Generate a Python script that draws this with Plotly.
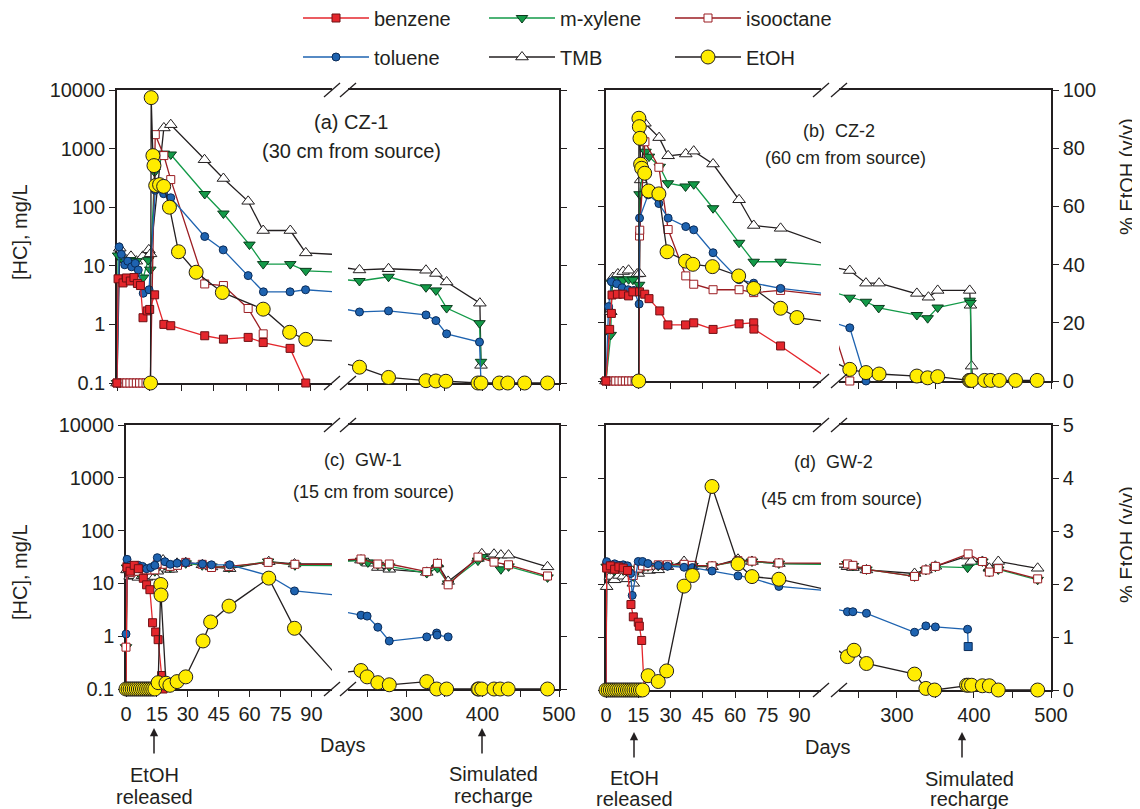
import plotly.graph_objects as go

W, H = 1140, 809          # browser window
OFF = 8                   # default page margin around the plot div
FIG_W, FIG_H = W - OFF, H - OFF

# ---------------- data: sampling day and value ----------------
# HC in mg/L (log axis), EtOH in % v/v (right axis)

# Panel (a) CZ-1
A_BENZ_D = [0, 0.5, 2.8, 4.4, 6.2, 7.9, 9.5, 10.9, 12.1, 14.1, 15.2, 17.5, 21.8, 25.0, 40.8, 49.5, 61.0, 68.0, 80.5, 87.8]
A_BENZ_V = [0.1, 6.0, 5.1, 6.2, 5.5, 6.3, 5.0, 4.6, 1.3, 1.7, 1.8, 3.2, 1.0, 0.95, 0.64, 0.56, 0.60, 0.49, 0.39, 0.1]
A_TOL_D = [0, 1.0, 2.0, 3.6, 5.0, 6.8, 8.5, 9.9, 12.2, 14.9, 17.8, 21.7, 25.0, 40.8, 49.4, 61.0, 68.1, 80.5, 87.7,
           239, 277, 326, 339, 353, 396, 398]
A_TOL_V = [0.1, 21, 15.7, 10.4, 12, 9.6, 11, 8.5, 3.4, 3.9, 195, 170, 145, 31.6, 18.7, 6.8, 3.6, 3.6, 3.9,
           1.63, 1.7, 1.45, 1.16, 0.69, 0.50, 0.1]
A_MX_D = [0, 0.5, 3.6, 6.2, 9.0, 12.2, 14.5, 15.5, 17.5, 21.8, 25.0, 40.8, 49.5, 61.6, 68.0, 80.6, 87.8,
          239, 277, 326, 339, 353, 396, 398]
A_MX_V = [0.1, 15, 11.5, 12.5, 12, 6.3, 12.5, 8.6, 400, 822, 794, 168, 78, 23, 10.7, 10.7, 8.2,
          5.5, 6.5, 4.3, 3.8, 1.9, 1.05, 0.23]
A_TMB_D = [0, 1.3, 2.5, 4.5, 6.5, 9.0, 12.0, 14.8, 15.6, 21.8, 25.0, 40.7, 49.5, 61.0, 68.0, 80.6, 87.8,
           239, 277, 326, 339, 353, 396.5, 398]
A_TMB_V = [0.1, 20, 14.5, 12.5, 14.5, 12, 14.5, 18.7, 16, 2250, 2560, 646, 309, 126, 40, 40, 16.6,
           8.5, 8.9, 8.4, 7.4, 5.3, 2.3, 0.2]
A_ISO_D = [0, 1.5, 3.0, 4.5, 6.0, 7.5, 9.0, 10.5, 12.0, 13.5, 15.5, 17.8, 21.8, 25.0, 40.8, 49.5, 61.0, 68.0]
A_ISO_V = [0.1, 0.1, 0.1, 0.1, 0.1, 0.1, 0.1, 0.1, 0.1, 0.1, 0.1, 1730, 760, 296, 4.9, 4.6, 1.87, 0.69]
A_ETOH_D = [15.6, 15.9, 16.7, 17.2, 18.0, 19.8, 21.7, 24.4, 28.6, 36.8, 49.0, 68.0, 80.3, 87.8,
            239, 277, 326, 339, 352, 394, 398, 422, 433, 455, 485]
A_ETOH_V = [0, 97.4, 77.6, 74.2, 67.4, 67.7, 67.1, 60.0, 44.8, 37.8, 30.9, 25.2, 17.3, 14.9,
            5.4, 1.9, 0.8, 0.7, 0.6, 0, 0, 0, 0, 0, 0]

# Panel (b) CZ-2
B_BENZ_D = [0, 1.7, 2.5, 2.8, 5.3, 7.9, 10.5, 12.5, 15.6, 18.0, 20.0, 25.0, 28.8, 37.0, 40.8, 49.8, 61.9, 68.7, 68.8, 81.2, 105]
B_BENZ_V = [0.1, 0.77, 1.45, 3.0, 3.1, 3.1, 2.9, 3.4, 3.4, 3.1, 2.6, 1.6, 0.92, 0.92, 1.0, 0.77, 0.96, 1.0, 0.78, 0.40, 0.1]
B_TOL_D = [0, 1.2, 2.5, 5.0, 7.5, 10.3, 13.0, 15.4, 15.6, 19.6, 24.6, 28.9, 37.1, 40.8, 49.8, 61.9, 68.7, 81.2, 239, 260]
B_TOL_V = [0.1, 1.9, 5.1, 4.7, 4.0, 3.7, 3.6, 2.1, 63, 158, 112, 63, 45, 39.6, 16.0, 5.5, 4.8, 3.9, 0.82, 0.1]
B_MX_D = [0, 2.2, 2.8, 5.3, 7.9, 10.5, 12.5, 15.4, 15.6, 18.4, 20.0, 25.0, 28.8, 37.0, 40.8, 49.8, 61.9, 68.7, 81.2,
          239, 260, 276.5, 326, 340, 353, 394.5, 395.5, 396.5]
B_MX_V = [0.1, 0.62, 4.8, 5.5, 5.4, 5.6, 5.5, 4.5, 162, 870, 717, 480, 250, 220, 240, 93, 23.7, 11.2, 11.2,
          2.7, 2.3, 1.8, 1.36, 1.2, 1.83, 2.4, 2.2, 0.1]
B_TMB_D = [0, 2.2, 3.2, 5.5, 8.0, 10.5, 14.5, 15.6, 16.1, 18.1, 24.7, 28.9, 37.1, 40.8, 49.8, 61.9, 68.7, 81.2, 110,
           239, 260, 277, 326, 341, 353, 394.5, 395.5, 397, 398.7]
B_TMB_V = [0.1, 1.55, 6.0, 6.9, 7.6, 8.0, 6.9, 7.0, 285, 2680, 1520, 740, 795, 890, 535, 130, 47, 42, 17.4,
           7.9, 4.8, 4.8, 3.2, 2.75, 3.6, 3.6, 2.0, 0.18, 0.1]
B_ISO_D = [0, 1.5, 3.0, 4.5, 6.0, 7.5, 9.0, 10.5, 12.0, 13.5, 15.4, 15.6, 15.7, 18.1, 24.6, 28.9, 37.1, 40.8, 49.8,
           61.9, 68.7, 81.2, 215, 239]
B_ISO_V = [0.1, 0.1, 0.1, 0.1, 0.1, 0.1, 0.1, 0.1, 0.1, 0.1, 0.1, 31, 39, 1290, 470, 40, 6.4, 4.6, 3.7,
           3.7, 3.3, 3.6, 1.0, 0.1]
B_ETOH_D = [15.2, 15.3, 15.5, 15.8, 16.1, 16.6, 18.0, 19.8, 24.6, 28.4, 37.0, 40.4, 49.5, 61.7, 68.7, 81.2, 88.8,
            239, 260, 277, 326, 340, 353, 394, 395.5, 397, 414, 422, 433, 454, 482]
B_ETOH_V = [0, 90.3, 87.4, 83.4, 74.5, 73.1, 71.4, 65.3, 64.3, 44.4, 41.2, 40.1, 39.3, 36.1, 31.8, 25.0, 21.8,
            4.0, 2.9, 2.4, 1.7, 1.1, 1.5, 0.2, 0.2, 0.2, 0.2, 0.2, 0.2, 0.2, 0.2]

# Panel (c) GW-1
C_BENZ_D = [0, 0.5, 2, 4, 6, 8.4, 10.0, 11.6, 12.9, 14.4, 15.6, 17.3, 18.0]
C_BENZ_V = [0.1, 20, 17, 22, 19, 12.5, 9.4, 7.6, 1.8, 1.2, 0.86, 0.18, 0.1]
C_TOL_D = [0, 0.5, 2, 4, 6, 8, 10, 12, 14, 15.2, 18.9, 21.5, 24.8, 29.0, 37.1, 41.5, 50.3, 69.3, 81.8,
           241, 249, 263, 278, 327, 340, 340.5, 355]
C_TOL_V = [1.1, 28.6, 22, 20, 22, 21, 19, 20, 22, 30.7, 25.8, 23, 24.1, 24.7, 23.3, 22.5, 22.5, 14.1, 7.2,
           2.5, 2.4, 1.48, 0.81, 0.97, 1.15, 1.05, 0.97]
C_MX_D = [0, 0.5, 2, 4, 6, 8, 10, 12, 14, 15.2, 17, 19, 21.5, 25, 29, 37, 41.5, 50, 69, 82,
          241, 250, 263, 278, 327, 341, 355, 394, 399, 415, 424, 434, 485]
C_MX_V = [0.62, 20, 17, 19, 16, 18, 17, 19, 17, 22, 25, 22, 20, 23, 24, 22, 21, 20, 26, 22,
          27, 25, 22.5, 21, 15.7, 19.5, 10.0, 27, 31.5, 27, 18.5, 21, 13.0]
C_ISO_D = [0, 0.5, 2, 4, 6, 8, 10, 12, 14, 15.2, 17, 19, 21.5, 25, 29, 37, 41.5, 50, 69, 82,
           241, 263, 278, 327, 341, 355, 394, 415, 434, 485]
C_ISO_V = [0.62, 21, 16, 18, 17, 19, 18, 18, 18, 23, 24, 23, 21, 22, 25, 23, 20, 21, 25, 23,
           29, 23.3, 23.3, 16.7, 24, 9.4, 31.5, 25.3, 22.5, 13.8]
C_TMB_D = [0, 0.5, 2, 4, 6, 8, 10, 12, 14, 15.2, 18, 20.5, 22, 24.8, 29, 37.1, 41.5, 50.3, 69.3, 81.8,
           241, 250, 263, 278, 327, 341, 355, 394, 399, 415, 424, 434, 485]
C_TMB_V = [0.1, 18, 13.6, 14, 13, 14, 13, 14, 13.5, 17, 27.7, 18.5, 18.5, 24, 24.7, 22.5, 20.5, 19, 25.8, 23.3,
           27.6, 24.1, 20.0, 18.5, 16.2, 23.3, 10.9, 29.7, 36.3, 35.7, 34.3, 34.3, 20.6]
C_ETOH_D = [0, 1, 2, 3, 4, 5, 6, 7, 8, 9, 10, 11, 12, 13, 14,
            15.6, 16.9, 17.0, 19.4, 21.3, 24.8, 29.0, 37.4, 41.1, 50.0, 69.3, 81.8, 105,
            241, 249, 263, 278, 327, 340, 353, 394, 395, 399, 415, 423, 433.5, 485]
C_ETOH_V = [0, 0, 0, 0, 0, 0, 0, 0, 0, 0, 0, 0, 0, 0, 0,
            0.12, 1.98, 1.78, 0.11, 0.07, 0.14, 0.23, 0.91, 1.27, 1.57, 2.10, 1.15, 0.14,
            0.35, 0.23, 0.12, 0.08, 0.14, 0, 0, 0, 0, 0, 0, 0, 0, 0]

# Panel (d) GW-2
D_BENZ_D = [0, 0.3, 2, 4, 6, 8, 10, 11.6, 12.7, 15.0, 15.5, 16.6, 17.8]
D_BENZ_V = [0.1, 20, 22, 19, 21, 20, 18, 4.1, 2.4, 1.9, 1.6, 0.86, 0.1]
D_TOL_D = [0, 0.3, 2, 4, 6, 8, 10, 11.5, 12.2, 15.0, 17.0, 19.5, 24.3, 28.6, 36.3, 40.2, 49.3, 61.4, 67.9, 80.4,
           236, 243, 260.6, 323, 337.7, 350, 391.8, 392.6]
D_TOL_V = [0.1, 26.4, 22.5, 24, 22.5, 23, 22, 15.8, 6.1, 26.6, 26.6, 24.3, 22.5, 21.6, 20.7, 20.4, 17.6, 14.2, 12.9, 9.0,
           3.0, 3.0, 2.8, 1.23, 1.62, 1.55, 1.40, 0.66]
D_MX_D = [0, 0.3, 2, 4, 6, 8, 10, 12.7, 15, 17, 19.5, 24.3, 28.6, 36.3, 40.2, 49.3, 61.4, 67.9, 80.4,
          236, 243, 260.6, 323, 337.7, 350, 391.8, 411, 420, 431.6, 482.7]
D_MX_V = [0.1, 21.2, 19, 18, 19.5, 18, 17, 13.9, 19.5, 21, 21.5, 22, 22.5, 22.9, 21.9, 21.9, 26.6, 26.6, 24.3,
          23.9, 21.9, 18.8, 13.9, 18.4, 21.2, 20.3, 26.6, 16.8, 18.8, 12.0]
D_ISO_D = [0, 0.3, 2, 4, 6, 8, 10, 12.7, 15, 17, 19.5, 24.3, 28.6, 36.3, 40.2, 49.3, 61.4, 67.9, 80.4,
           236, 243, 260.6, 323, 337.7, 350, 392.5, 411, 420, 431.6, 482.7]
D_ISO_V = [0.1, 22, 20, 19, 20, 19, 18, 14.5, 20, 22, 22, 23, 23, 23.5, 22.5, 22, 27.5, 27, 25,
           23.9, 22.5, 18.8, 13.9, 18.4, 21.5, 37, 26.6, 16.8, 19.5, 12.5]
D_TMB_D = [0, 0.3, 2, 4, 6, 8, 10, 12.7, 15, 17.5, 20, 24.3, 28.6, 36.3, 40.2, 49.3, 61.4, 67.9, 80.4,
           236, 243, 260.6, 323, 337.7, 350, 391.8, 396.5, 411, 420, 431.6, 482.7]
D_TMB_V = [0.1, 8.9, 13.9, 12, 14.5, 14, 12.5, 10.3, 15.8, 18.4, 18, 18.5, 21.2, 26.6, 21.2, 21.2, 29.3, 26.6, 24.3,
           21.2, 20.4, 18.4, 15.8, 18.4, 21.6, 33.6, 26.6, 26.6, 19.8, 26.6, 19.8]
D_ETOH_D = [0, 1, 2, 3, 4, 5, 6, 7, 8, 9, 10, 11, 12, 13, 14, 15, 16, 17,
            19.6, 24.3, 28.2, 36.3, 40.2, 49.3, 61.4, 67.9, 80.4,
            236, 244.5, 260.6, 323, 337.7, 349, 390.5, 393, 397, 411, 420, 431.6, 482.7]
D_ETOH_V = [0, 0, 0, 0, 0, 0, 0, 0, 0, 0, 0, 0, 0, 0, 0, 0, 0, 0,
            0.27, 0.16, 0.36, 1.96, 2.16, 3.84, 2.38, 2.14, 2.09,
            0.63, 0.75, 0.50, 0.30, 0.03, 0, 0.09, 0.09, 0.09, 0.08, 0.08, 0, 0]

HC_TICKS = [0.1, 1, 10, 100, 1000, 10000]
HC_TICKTEXT = ['0.1', '1', '10', '100', '1000', '10000']
LEFT_TICKS = [0, 15, 30, 45, 60, 75, 90]
RIGHT_TICKS = [250, 300, 350, 400, 450, 500]
RIGHT_TICKTEXT = ['', '300', '', '400', '', '500']

# ---------------- styling ----------------
FONT = 'Liberation Sans, Arial, Helvetica, sans-serif'
INK = '#231F20'
STYLE = {
    'benzene':   dict(line='#E4262C', sym='square', size=8, fill='#E4262C', edge='#6E1014'),
    'm-xylene':  dict(line='#139A48', sym='triangle-down', size=10, fill='#139A48', edge='#0A3A1C'),
    'isooctane': dict(line='#9B1D22', sym='square', size=8, fill='#FFFFFF', edge='#9B1D22'),
    'toluene':   dict(line='#1E63B0', sym='circle', size=8, fill='#1E63B0', edge='#0A2B58'),
    'TMB':       dict(line=INK, sym='triangle-up', size=11, fill='#FFFFFF', edge=INK),
    'EtOH':      dict(line=INK, sym='circle', size=14, fill='#FFEC00', edge=INK),
}

# panel frames in window pixels
PANELS = [
    dict(x0=117, xb0=332, xb1=348, x1=559, yt=90, yb=383, rmax=100, rstep=20, rr=[224, 500],
         lab_y=True, lab_r=False, lab_x=False,
         series=[('TMB', A_TMB_D, A_TMB_V), ('m-xylene', A_MX_D, A_MX_V), ('isooctane', A_ISO_D, A_ISO_V),
                 ('toluene', A_TOL_D, A_TOL_V), ('benzene', A_BENZ_D, A_BENZ_V)],
         etoh=(A_ETOH_D, A_ETOH_V)),
    dict(x0=606, xb0=821, xb1=839, x1=1051, yt=90, yb=381, rmax=100, rstep=20, rr=[225, 500],
         lab_y=False, lab_r=True, lab_x=False,
         series=[('TMB', B_TMB_D, B_TMB_V), ('m-xylene', B_MX_D, B_MX_V), ('isooctane', B_ISO_D, B_ISO_V),
                 ('toluene', B_TOL_D, B_TOL_V), ('benzene', B_BENZ_D, B_BENZ_V)],
         etoh=(B_ETOH_D, B_ETOH_V)),
    dict(x0=126, xb0=332, xb1=348, x1=559, yt=425, yb=689, rmax=5, rstep=1, rr=[224, 500],
         lab_y=True, lab_r=False, lab_x=True,
         series=[('TMB', C_TMB_D, C_TMB_V), ('m-xylene', C_MX_D, C_MX_V), ('isooctane', C_ISO_D, C_ISO_V),
                 ('toluene', C_TOL_D, C_TOL_V), ('benzene', C_BENZ_D, C_BENZ_V)],
         etoh=(C_ETOH_D, C_ETOH_V)),
    dict(x0=606, xb0=821, xb1=839, x1=1051, yt=425, yb=690, rmax=5, rstep=1, rr=[225, 500],
         lab_y=False, lab_r=True, lab_x=True,
         series=[('TMB', D_TMB_D, D_TMB_V), ('m-xylene', D_MX_D, D_MX_V), ('isooctane', D_ISO_D, D_ISO_V),
                 ('toluene', D_TOL_D, D_TOL_V), ('benzene', D_BENZ_D, D_BENZ_V)],
         etoh=(D_ETOH_D, D_ETOH_V)),
]


def px(x):
    return (x - OFF) / FIG_W


def py(y):
    return 1 - (y - OFF) / FIG_H


def ax_id(letter, k):
    return letter + ('' if k == 1 else str(k))


def ax_name(letter, k):
    return letter + 'axis' + ('' if k == 1 else str(k))


fig = go.Figure()

# legend entries (two rows, as in the original)
LEG1 = ['benzene', 'm-xylene', 'isooctane']
LEG2 = ['toluene', 'TMB', 'EtOH']
for lg, names in (('legend', LEG1), ('legend2', LEG2)):
    for r, nm in enumerate(names):
        st = STYLE[nm]
        fig.add_trace(go.Scatter(
            x=[None], y=[None], name=nm, mode='lines+markers', legend=lg, legendrank=r + 1,
            line=dict(color=st['line'], width=1.3),
            marker=dict(symbol=st['sym'], size=st['size'], color=st['fill'], line=dict(color=st['edge'], width=1)),
            xaxis='x', yaxis='y', hoverinfo='skip'))


def add_series(name, days, vals, xl, xr, yax, rr, symbols=None):
    st = STYLE[name]
    for xa, (lo, hi) in ((xl, (0, 100)), (xr, tuple(rr))):
        fig.add_trace(go.Scatter(x=days, y=vals, xaxis=xa, yaxis=yax, mode='lines',
                                 line=dict(color=st['line'], width=1.3), showlegend=False, hoverinfo='skip'))
        idx = [k for k, d in enumerate(days) if lo <= d <= hi]
        sym = [symbols[k] for k in idx] if symbols else st['sym']
        fig.add_trace(go.Scatter(x=[days[k] for k in idx], y=[vals[k] for k in idx], xaxis=xa, yaxis=yax,
                                 mode='markers', cliponaxis=False, showlegend=False, hoverinfo='skip',
                                 marker=dict(symbol=sym, size=st['size'], color=st['fill'],
                                             line=dict(color=st['edge'], width=1))))


layout = {}
shapes = []
common = dict(showline=True, linecolor=INK, linewidth=1.5, ticks='outside', ticklen=6, tickwidth=1.2,
              tickcolor=INK, showgrid=False, zeroline=False, layer='below traces', automargin=False,
              tickfont=dict(family=FONT, size=20, color=INK))

for i, P in enumerate(PANELS):
    kl, kr = 2 * i + 1, 2 * i + 2
    xl, xr, yl, yr = ax_id('x', kl), ax_id('x', kr), ax_id('y', kl), ax_id('y', kr)
    layout[ax_name('x', kl)] = dict(common, domain=[px(P['x0']), px(P['xb0'])], range=[0, 100], anchor=yl,
                                    mirror=True, tickvals=LEFT_TICKS, showticklabels=P['lab_x'])
    layout[ax_name('x', kr)] = dict(common, domain=[px(P['xb1']), px(P['x1'])], range=P['rr'], anchor=yl,
                                    mirror=True, tickvals=RIGHT_TICKS, ticktext=RIGHT_TICKTEXT,
                                    showticklabels=P['lab_x'])
    layout[ax_name('y', kl)] = dict(common, domain=[py(P['yb']), py(P['yt'])], type='log', range=[-1, 4],
                                    anchor=xl, side='left', tickvals=HC_TICKS, ticktext=HC_TICKTEXT,
                                    showticklabels=P['lab_y'])
    rt = [P['rstep'] * k for k in range(6)]
    layout[ax_name('y', kr)] = dict(common, overlaying=yl, anchor=xr, side='right', range=[0, P['rmax']],
                                    tickvals=rt, showticklabels=P['lab_r'])

    for name, d, v in P['series']:
        syms = None
        if i == 3 and name == 'toluene':
            syms = ['square' if k == len(d) - 1 else 'circle' for k in range(len(d))]
        add_series(name, d, v, xl, xr, yl, P['rr'], syms)
    add_series('EtOH', P['etoh'][0], P['etoh'][1], xl, xr, yr, P['rr'])

    # axis-break marks
    for yy in (P['yt'], P['yb']):
        for xx in (P['xb0'], P['xb1']):
            shapes.append(dict(type='line', xref='paper', yref='paper',
                               x0=px(xx - 8), y0=py(yy + 7), x1=px(xx + 8), y1=py(yy - 7),
                               line=dict(color=INK, width=1.3)))

annotations = []


def txt(x, y, s, size=20, angle=0):
    annotations.append(dict(x=px(x), y=py(y), xref='paper', yref='paper', text=s, showarrow=False,
                            textangle=angle, font=dict(family=FONT, size=size, color=INK),
                            xanchor='center', yanchor='middle'))


NB = '\u00a0'
txt(351, 122, '(a) CZ-1', 20)
txt(351, 151, '(30 cm from source)', 20)
txt(839, 131, '(b)' + NB + NB + 'CZ-2', 18)
txt(845, 158, '(60 cm from source)', 18)
txt(363, 460, '(c)' + NB + NB + 'GW-1', 18)
txt(373, 492, '(15 cm from source)', 18)
txt(833, 462, '(d)' + NB + NB + 'GW-2', 18)
txt(841, 499, '(45 cm from source)', 18)

txt(20, 232, '[HC], mg/L', 20, -90)
txt(20, 572, '[HC], mg/L', 20, -90)
txt(1127, 177, '% EtOH (v/v)', 20, -90)
txt(1127, 545, '% EtOH (v/v)', 20, -90)

txt(343, 745, 'Days', 20)
txt(828, 747, 'Days', 20)
txt(154, 775, 'EtOH', 20)
txt(154, 797, 'released', 20)
txt(493, 774, 'Simulated', 20)
txt(493, 796, 'recharge', 20)
txt(634, 778, 'EtOH', 20)
txt(634, 799, 'released', 20)
txt(969, 779, 'Simulated', 20)
txt(969, 799, 'recharge', 20)

for ax_, ay_ in ((154, 728), (482, 728), (634, 732), (962, 732)):
    annotations.append(dict(x=px(ax_), y=py(ay_), xref='paper', yref='paper', text='', showarrow=True,
                            ax=0, ay=27, arrowhead=2, arrowsize=1.1, arrowwidth=1.5, arrowcolor=INK))

leg_common = dict(orientation='h', xanchor='left', yanchor='middle', bgcolor='rgba(0,0,0,0)',
                  font=dict(family=FONT, size=20, color=INK), entrywidth=105, entrywidthmode='pixels',
                  itemwidth=66, itemclick=False, itemdoubleclick=False)
layout['legend'] = dict(leg_common, x=px(298), y=py(18))
layout['legend2'] = dict(leg_common, x=px(298), y=py(57))

fig.update_layout(width=FIG_W, height=FIG_H, autosize=False,
                  margin=dict(l=0, r=0, t=0, b=0, autoexpand=False),
                  paper_bgcolor='white', plot_bgcolor='white', showlegend=True,
                  shapes=shapes, annotations=annotations, hovermode=False,
                  font=dict(family=FONT, size=20, color=INK), **layout)

fig.write_html('out.html')
